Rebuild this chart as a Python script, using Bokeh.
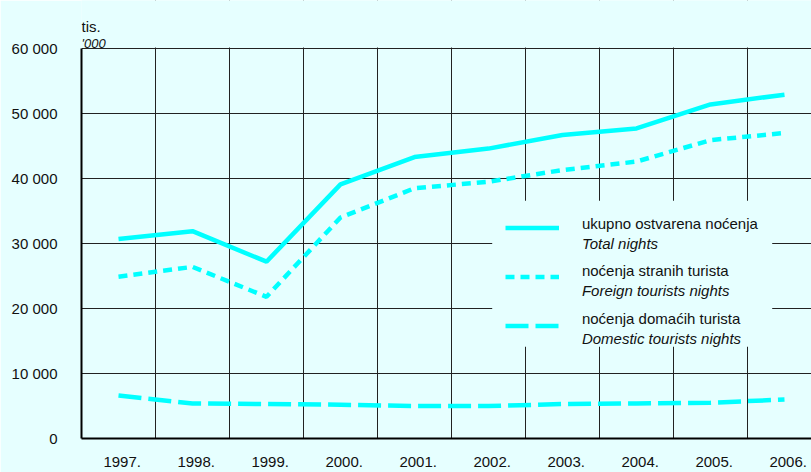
from bokeh.plotting import figure
from bokeh.models import (Range1d, FixedTicker, Label, Legend, LegendItem,
                          BoxAnnotation, ColumnDataSource)
from bokeh.embed import file_html
from bokeh.resources import INLINE
from bokeh.core.properties import value

# ---------------- data ----------------
years = ["1997.", "1998.", "1999.", "2000.", "2001.",
         "2002.", "2003.", "2004.", "2005.", "2006."]
total_nights = [30700, 31900, 27200, 39100, 43300, 44600, 46700, 47700, 51400, 52900]
foreign_nights = [24900, 26400, 21800, 34000, 38500, 39500, 41300, 42600, 45900, 47000]
domestic_nights = [6600, 5400, 5300, 5200, 5000, 5000, 5300, 5400, 5500, 6000]
y_tick_values = [0, 10000, 20000, 30000, 40000, 50000, 60000]
y_tick_labels = ["0", "10 000", "20 000", "30 000", "40 000", "50 000", "60 000"]
legend_hr = ["ukupno ostvarena noćenja", "noćenja stranih turista", "noćenja domaćih turista"]
legend_en = ["Total nights", "Foreign tourists nights", "Domestic tourists nights"]
unit_hr = "tis."
unit_en = "'000"

# ---------------- style ----------------
FONT = "Liberation Sans"
FS = "15px"
BG = "#E6FFFF"
CYAN = "#00FFFF"
TXT = "#111111"
W, H = 811, 472
LEFT, BOTTOM = 81, 34
CAT_W = 74          # px per category
PLOT_H = 390        # px from 0 to top tick value
frame_w = W - LEFT
frame_h = H - BOTTOM
y_top = y_tick_values[-1]

xs = [i + 0.5 for i in range(len(years))]
src = ColumnDataSource(dict(x=xs, total=total_nights, foreign=foreign_nights,
                            domestic=domestic_nights))

p = figure(width=W, height=H, x_range=Range1d(0, frame_w / CAT_W),
           y_range=Range1d(0, y_top * frame_h / PLOT_H),
           output_backend="svg", toolbar_location=None,
           min_border_left=LEFT, min_border_right=0,
           min_border_top=0, min_border_bottom=BOTTOM)
p.background_fill_color = BG
p.border_fill_color = BG
p.outline_line_color = None

r_total = p.line("x", "total", source=src, line_color=CYAN, line_width=4.5)
r_foreign = p.line("x", "foreign", source=src, line_color=CYAN, line_width=4.5,
                   line_dash="9 6")
r_domestic = p.line("x", "domestic", source=src, line_color=CYAN, line_width=4.5,
                    line_dash="23 7")

# grids
p.xgrid.ticker = FixedTicker(ticks=list(range(1, len(years))))
p.ygrid.ticker = FixedTicker(ticks=y_tick_values)
for g in (p.xgrid, p.ygrid):
    g.grid_line_color = "#222222"
    g.grid_line_width = 1

# axes
label_ticks = [x + 0.05 for x in xs]
p.xaxis.ticker = FixedTicker(ticks=label_ticks)
p.xaxis.major_label_overrides = {t: y for t, y in zip(label_ticks, years)}
p.yaxis.ticker = FixedTicker(ticks=y_tick_values)
p.yaxis.major_label_overrides = dict(zip(y_tick_values, y_tick_labels))
p.yaxis.bounds = (0, y_top)
for ax in (p.xaxis[0], p.yaxis[0]):
    ax.axis_line_color = "black"
    ax.axis_line_width = 2
    ax.major_tick_line_color = None
    ax.minor_tick_line_color = None
    ax.major_tick_in = 0
    ax.major_tick_out = 0
    ax.major_label_text_font = FONT
    ax.major_label_text_font_size = FS
    ax.major_label_text_color = TXT
p.yaxis.major_label_standoff = 24
p.xaxis.major_label_standoff = 18

# blank area above the top gridline (hides vertical gridlines there)
p.add_layout(BoxAnnotation(bottom=PLOT_H + 1, bottom_units="screen",
                           fill_color=BG, fill_alpha=1, line_color=None))

# unit labels above the plot
p.add_layout(Label(x=0, y=frame_h - 26, x_units="screen", y_units="screen",
                   text=unit_hr, text_font=FONT, text_font_size="15px",
                   text_color=TXT, text_baseline="alphabetic"))
p.add_layout(Label(x=0, y=frame_h - 42.7, x_units="screen", y_units="screen",
                   text=unit_en, text_font=FONT, text_font_size="13px",
                   text_font_style="italic", text_color=TXT,
                   text_baseline="alphabetic"))

# legend background box (blank area)
p.add_layout(BoxAnnotation(left=410.7, right=690.7, bottom=91.7, top=237.7,
                           left_units="screen", right_units="screen",
                           bottom_units="screen", top_units="screen",
                           fill_color=BG, fill_alpha=1, line_color=None))

legend = Legend(items=[LegendItem(label=value(" "), renderers=[r])
                       for r in (r_total, r_foreign, r_domestic)],
                location=(424.4, 88.5), glyph_width=54, glyph_height=49,
                label_width=0, label_height=49, label_standoff=0,
                padding=0, spacing=0, margin=0, border_line_color=None,
                background_fill_alpha=0, label_text_font_size="1px")
p.add_layout(legend)

text_x = 500.4
hr_y = [214.7, 167.7, 120.2]
for t_hr, t_en, yb in zip(legend_hr, legend_en, hr_y):
    p.add_layout(Label(x=text_x, y=yb, x_units="screen", y_units="screen",
                       text=t_hr, text_font=FONT, text_font_size=FS,
                       text_color=TXT, text_baseline="alphabetic"))
    p.add_layout(Label(x=text_x, y=yb - 20, x_units="screen", y_units="screen",
                       text=t_en, text_font=FONT, text_font_size=FS,
                       text_font_style="italic", text_color=TXT,
                       text_baseline="alphabetic"))

open("out.html", "w").write(file_html(p, INLINE))
